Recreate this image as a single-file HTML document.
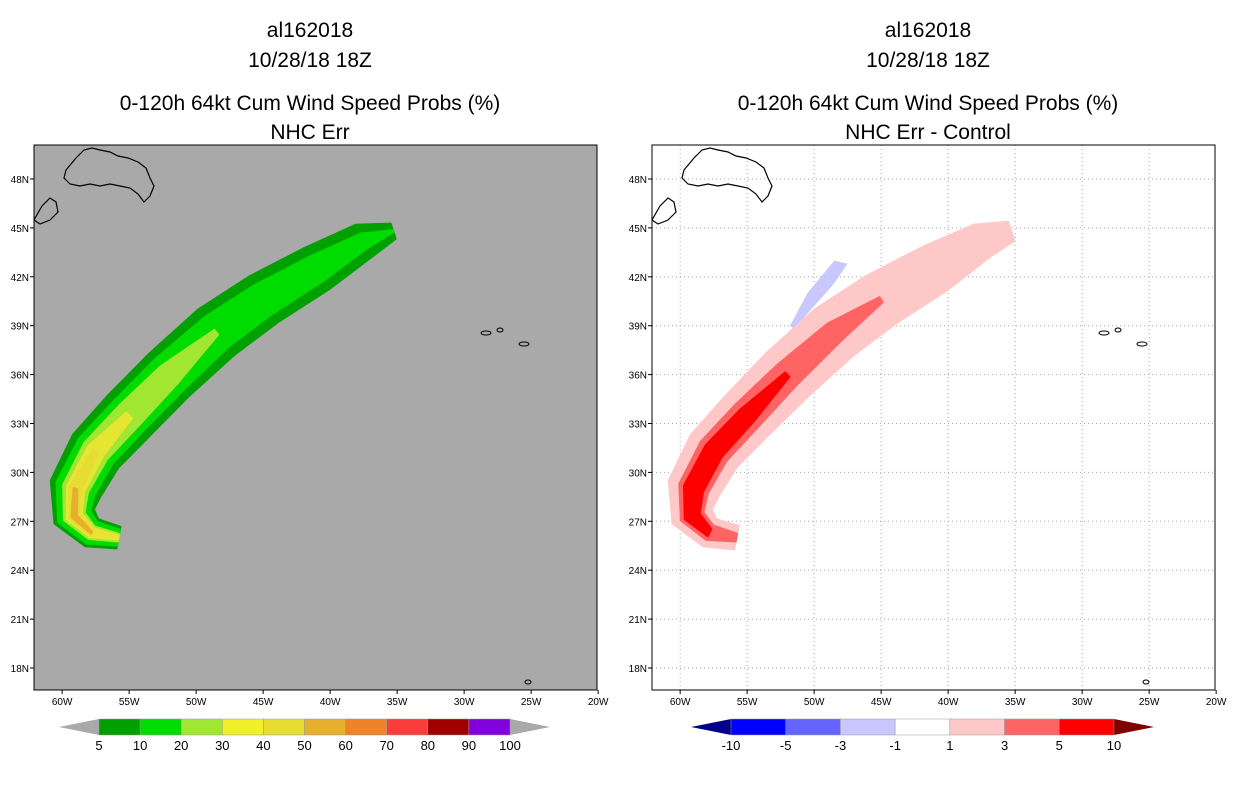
<!DOCTYPE html>
<html><head><meta charset="utf-8">
<style>
body{margin:0;background:#fff;width:1236px;height:800px;overflow:hidden;font-family:"Liberation Sans",sans-serif;}
svg text{font-family:"Liberation Sans",sans-serif;}
</style></head>
<body>
<svg id="s" width="1236" height="800" viewBox="0 0 1236 800">
<g id="titles" font-size="21" text-anchor="middle" fill="#000">
<text x="310" y="37">al162018</text>
<text x="310" y="67">10/28/18 18Z</text>
<text x="310" y="110">0-120h 64kt Cum Wind Speed Probs (%)</text>
<text x="310" y="139">NHC Err</text>
<text x="928" y="37">al162018</text>
<text x="928" y="67">10/28/18 18Z</text>
<text x="928" y="110">0-120h 64kt Cum Wind Speed Probs (%)</text>
<text x="928" y="139">NHC Err - Control</text>
</g>
</svg>
<script>
const lonTicks=[-60,-55,-50,-45,-40,-35,-30,-25,-20];
const latTicks=[48,45,42,39,36,33,30,27,24,21,18];
const trackLon=[-55.8,-57.8,-59.1,-59.0,-57.5,-55,-52,-48.5,-45,-41,-37.5,-35.3];
const trackLat=[26.0,26.3,27.3,29.0,31.3,33.5,36,38.6,40.6,42.5,44.2,44.8];
const levLeft=[5,10,20,30,40,50];
const colLeft=["#00a000","#00dc00","#a0e632","#e6e632","#e6dc32","#e6af2d"];
const wLeft=[
[11,15,21,26,28,29,29,29,27,24,18,8],
[8,12,17,20,21,21,21,19,17,14,8,1],
[4,7,11,13,14,14,12,3,0,0,0,0],
[2,5,8,9,9,4,0,0,0,0,0,0],
[0,3,5,6,3,0,0,0,0,0,0,0],
[0,1,3,2,0,0,0,0,0,0,0,0]];
const levRight=[1,3,5];
const colRight=["#ffc8c8","#ff6464","#ff0000"];
const wRight=[
[12,15,21,26,28,29,30,30,28,25,18,10],
[4,8,12,15,16,16,14,11,3,0,0,0],
[0,4,8,10,10,9,3,0,0,0,0,0]];
const negLon=[-51.5,-50,-48.5,-47.5,-48.5,-50.5,-51.8];
const negLat=[38.8,40.2,41.6,42.8,43,41,39];
const cbLeftLabels=["5","10","20","30","40","50","60","70","80","90","100"];
const cbLeftColors=["#00a000","#00dc00","#a0e632","#f0f028","#e6dc32","#e6af2d","#f08228","#fa3c3c","#a00000","#8200dc"];
const cbRightLabels=["-10","-5","-3","-1","1","3","5","10"];
const cbRightColors=["#0000ff","#6464ff","#c8c8ff","#ffffff","#ffc8c8","#ff6464","#ff0000"];

const S=document.getElementById('s');const NS="http://www.w3.org/2000/svg";
function mk(t,a,p){const e=document.createElementNS(NS,t);for(const k in a)e.setAttribute(k,a[k]);(p||S).appendChild(e);return e;}
function X(lon,off){return 34+off+(lon+62.1)*13.4;}
function Y(lat){return 179+(48-lat)*16.3;}
function band(g,w,off,col){
 const n=trackLon.length;const L=[],R=[];
 for(let i=0;i<n;i++){
  if(w[i]<=0)continue;
  const a=Math.max(0,i-1),b=Math.min(n-1,i+1);
  let dx=X(trackLon[b],off)-X(trackLon[a],off),dy=Y(trackLat[b])-Y(trackLat[a]);
  const m=Math.hypot(dx,dy);dx/=m;dy/=m;
  const x=X(trackLon[i],off),y=Y(trackLat[i]);
  L.push([x-dy*w[i],y+dx*w[i]]);R.push([x+dy*w[i],y-dx*w[i]]);
 }
 const pts=L.concat(R.reverse()).map(p=>p[0].toFixed(1)+","+p[1].toFixed(1)).join(" ");
 return mk('polygon',{points:pts,fill:col,stroke:col,'stroke-width':2,'stroke-linejoin':'round'},g);
}
function coast(g,off){
 const nf="M66,170 L76,158 L84,150 L92,148 L100,150 L110,152 L118,156 L128,158 L138,162 L146,168 L150,178 L154,186 L150,196 L144,202 L138,194 L130,188 L120,186 L110,184 L100,186 L90,184 L80,186 L70,184 L64,178 Z";
 const a=mk('path',{d:nf,fill:'none',stroke:'#000','stroke-width':1.2,transform:`translate(${off},0)`},g);
 
 const ns=mk('path',{d:"M34,220 L42,206 L50,198 L56,202 L58,212 L50,220 L40,224 Z",fill:'none',stroke:'#000','stroke-width':1.2,transform:`translate(${off},0)`},g);
 
 [[486,333,5,2],[500,330,3,2],[524,344,5,2],[528,682,3,2]].forEach(c=>{
  const e=mk('ellipse',{cx:c[0]+off,cy:c[1],rx:c[2],ry:c[3],fill:'none',stroke:'#000','stroke-width':1},g);
  
 });
}
function panel(off,bg,grid,levs,cols,widths,name){
 const g=mk('g',{});
 const clip=mk('clipPath',{id:'c'+off},S);mk('rect',{x:34+off,y:145,width:563,height:545},clip);
 const bgR=mk('rect',{x:34+off,y:145,width:563,height:545,fill:bg},g);
 
 const inner=mk('g',{'clip-path':`url(#c${off})`},g);
 if(grid){
  lonTicks.forEach(l=>{const e=mk('line',{x1:X(l,off),x2:X(l,off),y1:145,y2:690,stroke:'#aaa','stroke-dasharray':'1,3'},inner);});
  latTicks.forEach(l=>{const e=mk('line',{x1:34+off,x2:597+off,y1:Y(l),y2:Y(l),stroke:'#aaa','stroke-dasharray':'1,3'},inner);});
  const pts=negLon.map((l,i)=>X(l,off)+","+Y(negLat[i])).join(" ");
  const p=mk('polygon',{points:pts,fill:'#c8c8ff'},inner);
  
 }
 levs.forEach((lv,i)=>{const p=band(inner,widths[i],off,cols[i]);
  
  });
 coast(inner,off);
 const fr=mk('rect',{x:34+off,y:145,width:563,height:545,fill:'none',stroke:'#000','stroke-width':1},g);
 
 lonTicks.forEach(l=>{
  mk('line',{x1:X(l,off),x2:X(l,off),y1:690,y2:694,stroke:'#000'},g);
  const t=mk('text',{x:X(l,off),y:705,'font-size':10,'text-anchor':'middle'},g);t.textContent=Math.abs(l)+'W';
  
 });
 latTicks.forEach(l=>{
  mk('line',{x1:30+off,x2:34+off,y1:Y(l),y2:Y(l),stroke:'#000'},g);
  const t=mk('text',{x:29+off,y:Y(l)+4,'font-size':10,'text-anchor':'end'},g);t.textContent=l+'N';
  
 });
}
panel(0,'#a9a9a9',false,levLeft,colLeft,wLeft,'left-map');
panel(618,'#ffffff',true,levRight,colRight,wRight,'right-map');

function colorbar(x0,x1,y,cols,labels,triL,triR,name){
 const g=mk('g',{});
 const n=cols.length,bw=(x1-x0)/n;
 mk('polygon',{points:`${x0},${y} ${x0-40},${y+8} ${x0},${y+16}`,fill:triL},g);
 mk('polygon',{points:`${x1},${y} ${x1+40},${y+8} ${x1},${y+16}`,fill:triR},g);
 cols.forEach((c,i)=>{const r=mk('rect',{x:x0+i*bw,y:y,width:bw,height:16,fill:c,stroke:'#999','stroke-width':0.5},g);
  });
 labels.forEach((l,i)=>{const t=mk('text',{x:x0+i*bw,y:y+31,'font-size':13,'text-anchor':'middle'},g);t.textContent=l;
  });
}
colorbar(99,510,719,cbLeftColors,cbLeftLabels,'#a9a9a9','#a9a9a9','left-colorbar');
colorbar(731,1114,719,cbRightColors,cbRightLabels,'#00008b','#800000','right-colorbar');
</script>
</body></html>
